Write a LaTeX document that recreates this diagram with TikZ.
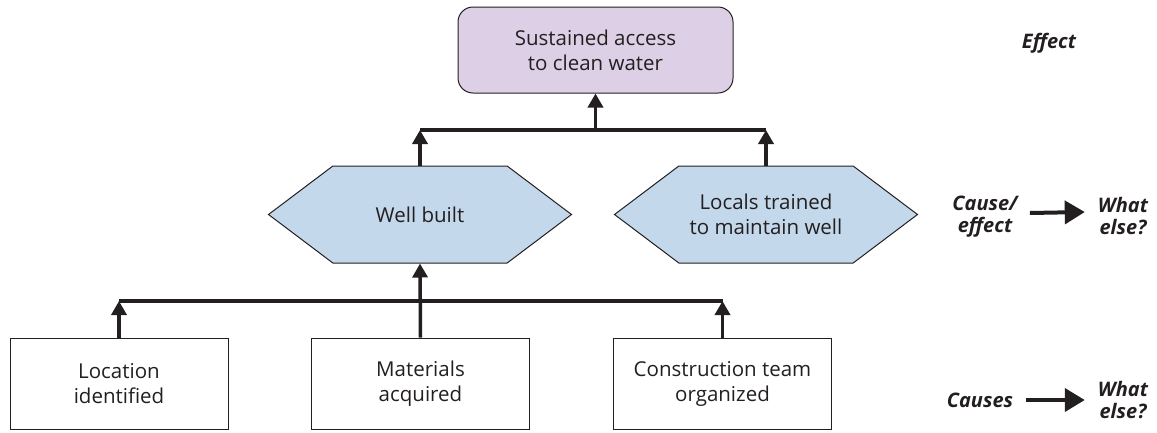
\documentclass[tikz,border=0pt]{standalone}
\usepackage{fontspec}
\setmainfont{Open Sans}
\usepackage{tikz}
\usetikzlibrary{arrows.meta,shapes.symbols,positioning}
\definecolor{effectfill}{HTML}{DDD0E6}
\definecolor{causefill}{HTML}{C4D8EC}
\definecolor{edge}{HTML}{231F20}

\begin{document}
\begin{tikzpicture}[x=1pt,y=-1pt]
\tikzstyle{every node}+=[inner sep=0pt,font=\fontsize{20.5}{25}\selectfont,align=center,text=edge]
\tikzstyle{effectbox}=[draw=edge,fill=effectfill,rounded corners=15pt,minimum width=275pt,minimum height=86pt,line width=1pt]
\tikzstyle{hexbox}=[draw=edge,fill=causefill,signal,signal to=west and east,signal pointer angle=74,minimum width=303pt,minimum height=97pt,line width=1pt]
\tikzstyle{causebox}=[draw=edge,minimum width=218pt,minimum height=91pt,line width=1pt]
\tikzstyle{side}=[font=\fontsize{20}{22}\selectfont\bfseries\itshape]
\tikzstyle{bar}=[edge,line width=3.5pt]
\tikzstyle{up}=[edge,line width=3.5pt,-{Triangle[width=15pt,length=14pt]}]
\tikzstyle{sidearrow}=[edge,line width=4pt,-{Triangle[width=23pt,length=20pt]}]
\useasboundingbox (0,0) rectangle (1157,432);
\node [effectbox] (water) at (595.5,50) {Sustained access\\to clean water};
\node [hexbox] (well) at (420,214.5) {Well built};
\node [hexbox] (locals) at (766,214.5) {Locals trained\\to maintain well};
\node [causebox] (location) at (119,383.5) {Location\\identified};
\node [causebox] (materials) at (420.5,383.5) {Materials\\acquired};
\node [causebox] (team) at (722.5,383.5) {Construction team\\organized};
\coordinate (topjoin) at (595.5,130);
\coordinate (lowjoin) at (420,301);
\draw [bar] (well.north |- topjoin) -- (locals.north |- topjoin);
\draw [up] (well.north) -- (well.north |- topjoin);
\draw [up] (locals.north) -- (locals.north |- topjoin);
\draw [up] (topjoin) -- (water.south);
\draw [bar] (location.north |- lowjoin) -- (team.north |- lowjoin);
\draw [up] (location.north) -- (location.north |- lowjoin);
\draw [up] (team.north) -- (team.north |- lowjoin);
\draw [up] (materials.north) -- (well.south);
\node [side] (effect) at (1049,43) {Effect};
\node [side] (causeeffect) at (985,217) {Cause/\\effect};
\node [side] (else1) at (1123,216) {What\\else?};
\node [side] (causes) at (980,400) {Causes};
\node [side] (else2) at (1123,400) {What\\else?};
\draw [sidearrow] ([shift={(12pt,4pt)}]causeeffect.east) -- ([shift={(-13pt,4pt)}]else1.west);
\draw [sidearrow] ([xshift=13pt]causes.east) -- ([xshift=-13pt]else2.west);
\end{tikzpicture}
\end{document}
